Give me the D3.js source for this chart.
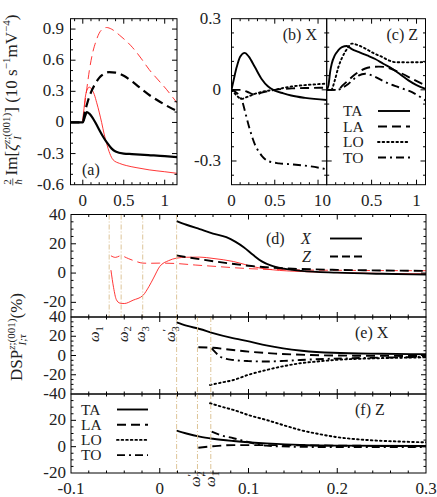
<!DOCTYPE html>
<html>
<head>
<meta charset="utf-8">
<script src="https://cdn.jsdelivr.net/npm/d3@7"></script>
<style>
  body { margin: 0; background: #fff; }
  svg text { font-family: "Liberation Serif", "Times New Roman", "DejaVu Serif", serif; fill: #222; }
</style>
</head>
<body>
<svg id="chart" width="437" height="497" font-family="Liberation Serif, Times New Roman, DejaVu Serif, serif"></svg>
<script>
// ---- data ----
// (a) total response, black = X, red = Z
const aBlackSolid = [[-0.15,0],[0,0],[0.02,0.04],[0.05,0.10],[0.08,0.085],[0.12,0.045],[0.16,-0.01],[0.2,-0.07],[0.25,-0.14],[0.3,-0.2],[0.35,-0.25],[0.4,-0.28],[0.5,-0.30],[0.6,-0.305],[0.8,-0.315],[1.0,-0.325],[1.15,-0.335]];
const aBlackDash = [[-0.15,0],[0,0],[0.02,0.08],[0.06,0.2],[0.1,0.29],[0.15,0.37],[0.2,0.43],[0.25,0.465],[0.32,0.485],[0.4,0.48],[0.5,0.45],[0.61,0.39],[0.72,0.32],[0.82,0.26],[0.94,0.2],[1.05,0.15],[1.15,0.11]];
const aRedSolid = [[-0.15,0],[-0.01,0],[0.01,0.1],[0.03,0.24],[0.05,0.31],[0.08,0.34],[0.11,0.32],[0.14,0.27],[0.17,0.19],[0.2,0.1],[0.23,0.0],[0.26,-0.11],[0.29,-0.2],[0.33,-0.3],[0.37,-0.36],[0.45,-0.395],[0.53,-0.415],[0.65,-0.435],[0.81,-0.457],[1.0,-0.475],[1.15,-0.49]];
const aRedDash = [[-0.15,0],[0,0],[0.02,0.15],[0.05,0.33],[0.08,0.5],[0.12,0.67],[0.16,0.78],[0.2,0.86],[0.25,0.905],[0.29,0.915],[0.35,0.9],[0.45,0.84],[0.61,0.72],[0.71,0.62],[0.81,0.51],[0.92,0.41],[1.02,0.32],[1.1,0.24],[1.15,0.19]];

// (b) X, per mode
const bTA = [[0,0],[0.03,0.05],[0.06,0.096],[0.1,0.14],[0.154,0.156],[0.2,0.14],[0.27,0.096],[0.35,0.045],[0.42,0.015],[0.5,-0.003],[0.6,-0.015],[0.69,-0.024],[0.85,-0.034],[1.1,-0.043]];
const bLA = [[0,0],[0.1,0],[0.18,-0.008],[0.27,-0.02],[0.35,-0.012],[0.5,0.0],[0.7,0.006],[0.9,0.008],[1.1,0.009]];
const bLO = [[0,0],[0.05,-0.02],[0.115,-0.038],[0.18,-0.03],[0.27,-0.017],[0.4,-0.005],[0.5,0.0],[0.6,0.008],[0.69,0.014],[0.85,0.02],[1.1,0.026]];
const bTO = [[0,0],[0.05,-0.01],[0.1,-0.03],[0.13,-0.055],[0.154,-0.088],[0.18,-0.125],[0.21,-0.165],[0.24,-0.2],[0.27,-0.23],[0.31,-0.258],[0.35,-0.278],[0.42,-0.3],[0.55,-0.31],[0.69,-0.314],[0.9,-0.322],[1.1,-0.335]];

// (c) Z, per mode
const cTA = [[0,0],[0.02,0.02],[0.04,0.08],[0.056,0.11],[0.09,0.145],[0.13,0.167],[0.17,0.18],[0.224,0.185],[0.28,0.172],[0.354,0.16],[0.45,0.145],[0.54,0.13],[0.63,0.11],[0.73,0.089],[0.82,0.065],[0.91,0.04],[1.0,0.02],[1.1,0.004]];
const cLA = [[0,0],[0.12,0],[0.18,0.02],[0.24,0.04],[0.3,0.06],[0.354,0.075],[0.43,0.09],[0.5,0.096],[0.58,0.098],[0.65,0.096],[0.8,0.075],[0.95,0.047],[1.1,0.018]];
const cLO = [[0,0],[0.05,0.0],[0.09,0.04],[0.13,0.096],[0.17,0.135],[0.205,0.16],[0.24,0.18],[0.28,0.195],[0.35,0.188],[0.43,0.174],[0.52,0.155],[0.615,0.139],[0.7,0.123],[0.76,0.117],[0.9,0.116],[1.1,0.117]];
const cTO = [[0,0],[0.12,0],[0.18,0.01],[0.24,0.025],[0.3,0.045],[0.354,0.06],[0.43,0.068],[0.52,0.058],[0.615,0.04],[0.7,0.025],[0.8,0.011],[0.95,-0.01],[1.05,-0.032],[1.1,-0.045]];

// (d) DSP total, black = X solid / Z dashed, red = second set
const dX = [[0.019,35.5],[0.03,33],[0.045,30],[0.06,27],[0.075,24.5],[0.085,21.5],[0.095,17.5],[0.105,12.5],[0.115,8],[0.125,5.2],[0.14,3],[0.16,1.5],[0.2,0.3],[0.25,-0.5],[0.3,-1]];
const dZ = [[0.019,12],[0.05,9],[0.08,6.5],[0.1,5],[0.12,4],[0.15,3],[0.2,2.2],[0.25,1.8],[0.3,1.5]];
const dXRed = [[-0.055,2],[-0.052,-10],[-0.049,-18],[-0.045,-20.5],[-0.04,-20.8],[-0.03,-18.5],[-0.019,-15.3],[-0.012,-9],[-0.007,-3.4],[0,4.5],[0.01,8.5],[0.019,10.2],[0.03,10.8],[0.045,10.9],[0.06,10],[0.083,7.9],[0.1,5.2],[0.113,3.4],[0.135,1.8],[0.158,1.1],[0.2,0.3],[0.3,-0.5]];
const dZRed = [[-0.055,11.8],[-0.05,10.7],[-0.044,11.8],[-0.035,9.8],[-0.027,8],[-0.019,6.8],[-0.01,6.7],[0,6.8],[0.019,6.5],[0.04,5.5],[0.064,4.5],[0.085,3.6],[0.105,2.9],[0.15,2.2],[0.2,1.9],[0.3,1.6]];

// (e) X, per mode
const eTA = [[0.019,34.4],[0.03,31],[0.045,27.5],[0.06,23.3],[0.08,18.5],[0.1017,14.4],[0.12,10.5],[0.139,7.4],[0.16,5],[0.1955,2.8],[0.25,1.8],[0.3,1.3]];
const eLA = [[0.0435,8.5],[0.06,8],[0.08,6],[0.1,4],[0.13,2],[0.17,0.5],[0.22,-0.2],[0.3,-0.5]];
const eLO = [[0.0566,-30.6],[0.07,-28],[0.083,-25.5],[0.1,-20],[0.12,-15.1],[0.14,-11],[0.158,-8.1],[0.18,-6],[0.196,-4.7],[0.24,-3],[0.3,-1.9]];
const eTO = [[0.0585,7.3],[0.063,3],[0.068,-1.2],[0.075,-3.5],[0.083,-4.7],[0.1,-5.8],[0.12,-6.2],[0.14,-5.6],[0.158,-4.7],[0.185,-3.6],[0.214,-2.9],[0.26,-2],[0.3,-1.5]];

// (f) Z, per mode
const fTA = [[0.019,12.2],[0.03,10],[0.045,7.6],[0.06,6],[0.083,4.3],[0.1,3.3],[0.12,2.5],[0.158,1.3],[0.2,0.8],[0.3,0.5]];
const fLA = [[0.0435,-0.8],[0.06,0.3],[0.083,1.2],[0.12,1.2],[0.2,0.8],[0.3,0.3]];
const fLO = [[0.0566,33],[0.07,30.3],[0.083,27.9],[0.1,24],[0.12,20.3],[0.14,16.2],[0.158,12.7],[0.18,9.5],[0.196,7.6],[0.233,5.1],[0.27,3.9],[0.3,3.3]];
const fTO = [[0.0585,11.4],[0.068,8.9],[0.083,6.4],[0.098,3.8],[0.11,1.8],[0.12,0.8],[0.15,0],[0.2,-0.3],[0.3,-0.3]];

// threshold lines
const dLines = [-0.057, -0.0435, -0.0192, 0.019];
const efLines = [0.019, 0.0425, 0.0575];
// threshold labels: [subscript, primed, x]
const eOmegaLabels = [["1", false, -0.068], ["2", false, -0.036], ["3", false, -0.0166], ["3", true, 0.0172]];
const fOmegaLabels = [["2", true, 0.0457], ["1", true, 0.0623]];

// ticks
const aXTicks = [0, 0.5, 1];
const aYTicks = [-0.6, -0.3, 0, 0.3, 0.6, 0.9];
const bcXTicks = [0, 0.5, 1];
const bcYTicks = [-0.3, 0, 0.3];
const lowXTicks = [-0.1, 0, 0.1, 0.2, 0.3];
const dYTicks = [-20, 0, 20, 40];
const eYTicks = [-40, -20, 0, 20, 40];
const fYTicks = [-20, 0, 20];

const modes = ["TA", "LA", "LO", "TO"];

// ---- drawing ----
const FS = 17;
const svg = d3.select("#chart");
const defs = svg.append("defs");

const dashes = { solid: null, dash: "9,5", dot: "1.6,3", dashdot: "8,4,2,4" };

function makePanel(id, xr, yr, xd, yd) {
  const x = d3.scaleLinear().domain(xd).range(xr);
  const y = d3.scaleLinear().domain(yd).range(yr);
  defs.append("clipPath").attr("id", "clip-" + id)
    .append("rect").attr("x", xr[0]).attr("y", yr[1])
    .attr("width", xr[1] - xr[0]).attr("height", yr[0] - yr[1]);
  const g = svg.append("g");
  const plot = g.append("g").attr("clip-path", `url(#clip-${id})`);
  return { id, x, y, g, plot };
}

function stepRange(d, step) {
  const n0 = Math.ceil(d[0] / step - 1e-6), n1 = Math.floor(d[1] / step + 1e-6);
  return d3.range(n0, n1 + 1).map((i) => +(i * step).toFixed(6));
}

function drawFrame(p, xMaj, xStep, yMaj, yStep) {
  const [xa, xb] = p.x.range();
  const [yb, ya] = p.y.range();
  const ticks = [];
  stepRange(p.x.domain(), xStep).forEach((v) => {
    const X = p.x(v);
    if (X < xa + 1 || X > xb - 1) return;
    const L = xMaj.some((m) => Math.abs(m - v) < xStep / 10) ? 5 : 2.5;
    ticks.push([X, yb, X, yb - L], [X, ya, X, ya + L]);
  });
  stepRange(p.y.domain(), yStep).forEach((v) => {
    const Y = p.y(v);
    if (Y < ya + 1 || Y > yb - 1) return;
    const L = yMaj.some((m) => Math.abs(m - v) < yStep / 10) ? 5 : 2.5;
    ticks.push([xa, Y, xa + L, Y], [xb, Y, xb - L, Y]);
  });
  p.g.selectAll(".tick").data(ticks).join("line")
    .attr("x1", (d) => d[0]).attr("y1", (d) => d[1])
    .attr("x2", (d) => d[2]).attr("y2", (d) => d[3])
    .attr("stroke", "#000").attr("stroke-width", 1);
  p.g.append("rect").attr("x", xa).attr("y", ya)
    .attr("width", xb - xa).attr("height", yb - ya)
    .attr("fill", "none").attr("stroke", "#000").attr("stroke-width", 1);
}

function fmt(v) {
  return String(v);
}

function xLabels(p, vals, yBase) {
  p.g.selectAll(".xl").data(vals).join("text")
    .attr("x", (d) => p.x(d)).attr("y", yBase)
    .attr("text-anchor", "middle").attr("font-size", FS).text(fmt);
}
function yLabels(p, vals, xRight) {
  p.g.selectAll(".yl").data(vals).join("text")
    .attr("x", xRight).attr("y", (d) => p.y(d) + 5)
    .attr("text-anchor", "end").attr("font-size", FS).text(fmt);
}

function curve(p, data, opt) {
  const line = d3.line().x((d) => p.x(d[0])).y((d) => p.y(d[1])).curve(d3.curveMonotoneX);
  p.plot.append("path").datum(data)
    .attr("d", line).attr("fill", "none")
    .attr("stroke", opt.color || "#000")
    .attr("stroke-width", opt.width || 1.9)
    .attr("stroke-dasharray", dashes[opt.dash || "solid"])
    .attr("stroke-linecap", opt.dash === "dot" ? "round" : "butt")
    .attr("stroke-linejoin", "round");
}

function vLines(p, vals) {
  const [yb, ya] = p.y.range();
  p.g.selectAll(".vl").data(vals).join("line")
    .attr("x1", (d) => p.x(d)).attr("x2", (d) => p.x(d))
    .attr("y1", ya).attr("y2", yb)
    .attr("stroke", "#d9bd8c").attr("stroke-width", 0.9)
    .attr("stroke-dasharray", "5,2,1,2");
}

// lays out a formula from parts; returns width
function mathText(g, parts, size) {
  let x = 0, lastStart = 0;
  parts.forEach((q) => {
    const fs = size * (q.s || 1);
    const x0 = q.stack ? lastStart : x;
    const t = g.append("text").attr("x", x0).attr("y", q.y || 0)
      .attr("font-size", fs).attr("font-style", q.it ? "italic" : null)
      .text(q.t);
    const w = t.node().getComputedTextLength();
    if (q.stack) x = Math.max(x, x0 + w);
    else { lastStart = x0; x = x0 + w; }
  });
  return x;
}

function legendRow(g, label, dash, xt, yb, lx0, lx1, anchor) {
  g.append("text").attr("x", xt).attr("y", yb).attr("font-size", 15.5)
    .attr("text-anchor", anchor || "start").text(label);
  g.append("line").attr("x1", lx0).attr("x2", lx1).attr("y1", yb - 5).attr("y2", yb - 5)
    .attr("stroke", "#000").attr("stroke-width", 1.9)
    .attr("stroke-dasharray", dashes[dash])
    .attr("stroke-linecap", dash === "dot" ? "round" : "butt");
}

const modeDash = { TA: "solid", LA: "dash", LO: "dot", TO: "dashdot" };

// ---- panel (a)
const pa = makePanel("a", [70.5, 177], [184.7, 18.7], [-0.15, 1.15], [-0.6, 1.0]);
curve(pa, aRedDash, { color: "#ff2020", width: 0.9, dash: "dash" });
curve(pa, aRedSolid, { color: "#ff2020", width: 0.9 });
curve(pa, aBlackDash, { width: 2.2, dash: "dash" });
curve(pa, aBlackSolid, { width: 2.2 });
drawFrame(pa, aXTicks, 0.1, aYTicks, 0.1);
xLabels(pa, aXTicks, 206);
yLabels(pa, aYTicks, 64);
pa.g.append("text").attr("x", 82).attr("y", 175).attr("font-size", 16).text("(a)");

// ---- panels (b), (c)
const pb = makePanel("b", [231.5, 326.7], [184.7, 18.7], [0, 1.1], [-0.4, 0.3]);
const pc = makePanel("c", [326.7, 425.5], [184.7, 18.7], [0, 1.1], [-0.4, 0.3]);
[[pb, [bTA, bLA, bLO, bTO]], [pc, [cTA, cLA, cLO, cTO]]].forEach(([p, series]) => {
  series.forEach((s, i) => curve(p, s, { width: 1.9, dash: modeDash[modes[i]] }));
  drawFrame(p, bcXTicks, 0.1, bcYTicks, 0.06);
  xLabels(p, bcXTicks, 206);
});
yLabels(pb, bcYTicks, 221);
pb.g.append("text").attr("x", 317).attr("y", 40).attr("text-anchor", "end").attr("font-size", 16).text("(b) X");
pc.g.append("text").attr("x", 418).attr("y", 40).attr("text-anchor", "end").attr("font-size", 16).text("(c) Z");
modes.forEach((m, i) => legendRow(pc.g, m, modeDash[m], 343, 116 + i * 15.5, 378, 410));

// ---- panel (d)
const lowX = [71, 426], lowXD = [-0.1, 0.3];
const pd = makePanel("d", lowX, [317, 214.5], lowXD, [-30, 40]);
vLines(pd, dLines);
curve(pd, dZRed, { color: "#ff2020", width: 0.9, dash: "dash" });
curve(pd, dXRed, { color: "#ff2020", width: 0.9 });
curve(pd, dZ, { width: 1.9, dash: "dash" });
curve(pd, dX, { width: 1.9 });
drawFrame(pd, lowXTicks, 0.02, dYTicks, 5);
yLabels(pd, dYTicks, 66);
pd.g.append("text").attr("x", 266).attr("y", 244).attr("font-size", 16).text("(d)");
pd.g.append("text").attr("x", 301).attr("y", 244).attr("font-size", 16).attr("font-style", "italic").text("X");
pd.g.append("line").attr("x1", 330).attr("x2", 362).attr("y1", 238.5).attr("y2", 238.5).attr("stroke", "#000").attr("stroke-width", 1.9);
pd.g.append("text").attr("x", 302).attr("y", 262).attr("font-size", 16).attr("font-style", "italic").text("Z");
pd.g.append("line").attr("x1", 330).attr("x2", 362).attr("y1", 256.5).attr("y2", 256.5).attr("stroke", "#000").attr("stroke-width", 1.9).attr("stroke-dasharray", "8,4");

// ---- panel (e)
const pe = makePanel("e", lowX, [394, 317], lowXD, [-40, 40]);
vLines(pe, efLines);
[eTA, eLA, eLO, eTO].forEach((s, i) => curve(pe, s, { width: 1.9, dash: modeDash[modes[i]] }));
drawFrame(pe, lowXTicks, 0.02, eYTicks, 5);
yLabels(pe, eYTicks, 66);
pe.g.append("text").attr("x", 355).attr("y", 338).attr("font-size", 16).text("(e) X");

// ---- panel (f)
const pf = makePanel("f", lowX, [473, 394], lowXD, [-20, 40]);
vLines(pf, efLines);
[fTA, fLA, fLO, fTO].forEach((s, i) => curve(pf, s, { width: 1.9, dash: modeDash[modes[i]] }));
drawFrame(pf, lowXTicks, 0.02, fYTicks, 5);
yLabels(pf, fYTicks, 66);
xLabels(pf, lowXTicks, 494);
pf.g.append("text").attr("x", 355).attr("y", 415).attr("font-size", 16).text("(f) Z");
modes.forEach((m, i) => legendRow(pf.g, m, modeDash[m], 81, 414.5 + i * 15.2, 117, 148));

// ---- omega labels (rotated)
function omegaLabel(p, d, yStart) {
  const [sub, primed, xv] = d;
  const g = svg.append("g").attr("transform", `translate(${p.x(xv)},${yStart}) rotate(-90)`);
  const parts = [{ t: "ω", it: true }];
  if (primed) parts.push({ t: "′", s: 0.75, y: -5 });
  parts.push({ t: sub, s: 0.7, y: 3.5, stack: primed });
  mathText(g, parts, 15);
}
eOmegaLabels.forEach((d) => omegaLabel(pe, d, 342));
fOmegaLabels.forEach((d) => omegaLabel(pf, d, 487));

// ---- y axis titles
function axisTitle(parts, cx, cy, size, frac) {
  const outer = svg.append("g").attr("transform", `translate(${cx},${cy}) rotate(-90)`);
  const inner = outer.append("g");
  let off = 0;
  if (frac) {
    inner.append("text").attr("x", 3.5).attr("y", -6).attr("font-size", size * 0.65).attr("text-anchor", "middle").text("2");
    inner.append("text").attr("x", 3.5).attr("y", 5).attr("font-size", size * 0.65).attr("text-anchor", "middle").attr("font-style", "italic").text("ħ");
    inner.append("line").attr("x1", 0).attr("x2", 7).attr("y1", -4.2).attr("y2", -4.2).attr("stroke", "#222").attr("stroke-width", 0.7);
    off = 10;
  }
  const body = inner.append("g").attr("transform", `translate(${off},0)`);
  const w = mathText(body, parts, size) + off;
  inner.attr("transform", `translate(${-w / 2},0)`);
}

axisTitle([
  { t: "Im[" },
  { t: "ζ", it: true },
  { t: "z", s: 0.65, y: -7, it: true },
  { t: ";(001)", s: 0.65, y: -7 },
  { t: "I", s: 0.65, y: 4, it: true, stack: true },
  { t: "] (10 s" },
  { t: "−1", s: 0.65, y: -7 },
  { t: "mV" },
  { t: "−4", s: 0.65, y: -7 },
  { t: ")" }
], 17, 100, FS, true);

axisTitle([
  { t: "DSP" },
  { t: "z", s: 0.65, y: -7, it: true },
  { t: ";(001)", s: 0.65, y: -7 },
  { t: "I;τ", s: 0.65, y: 4, it: true, stack: true },
  { t: "  (%)" }
], 22, 337, FS, false);
</script>
</body>
</html>
